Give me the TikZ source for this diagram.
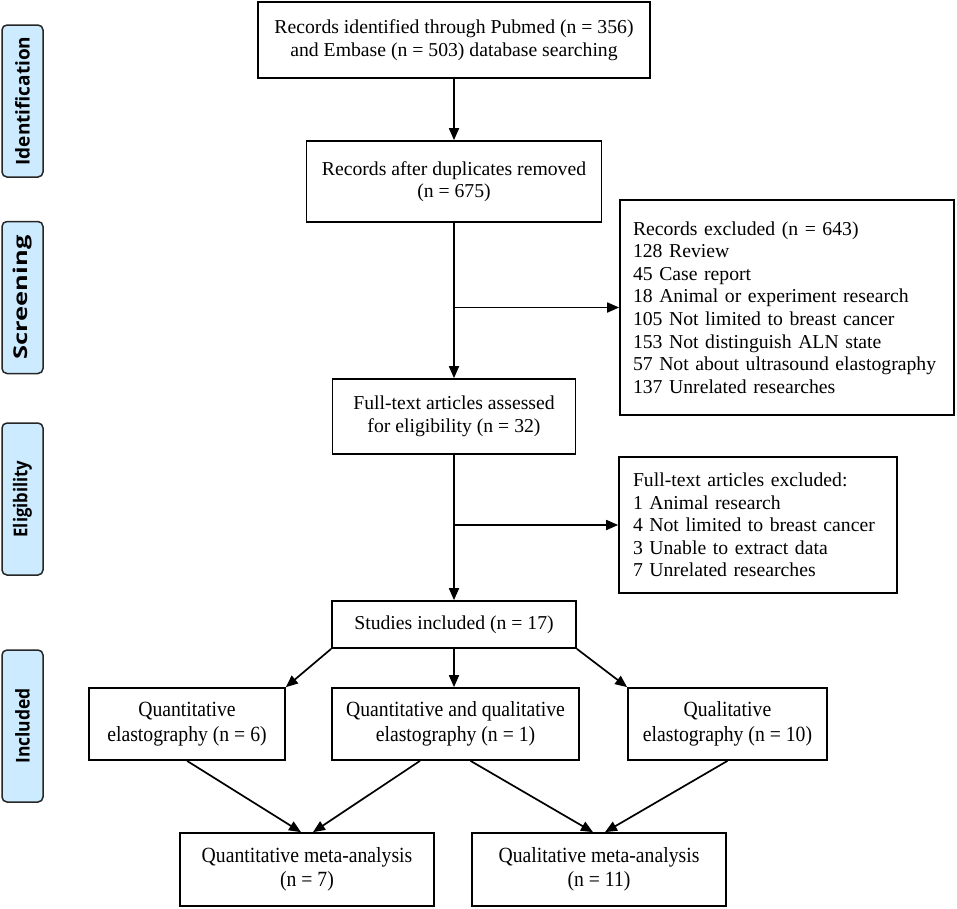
\documentclass[tikz,border=0pt]{standalone}
\usepackage{fontspec}
\setmainfont{Liberation Serif}
\newfontfamily\labelfont{Open Sans}
\usetikzlibrary{arrows.meta}
\definecolor{stageblue}{RGB}{205,235,255}
\newcommand{\tallt}[1]{\scalebox{1}[1.1]{\begin{tabular}{@{}c@{}}#1\end{tabular}}}
\newcommand{\stx}[2]{\scalebox{#1}[1]{#2}}
\begin{document}
\begin{tikzpicture}[x=1pt,y=-1pt,
  box/.style={draw=black, line width=1.7pt, inner sep=0pt,
    font=\fontsize{19.7}{22.6}\selectfont, align=center},
  stage/.style={draw=black!85, fill=stageblue, line width=1.5pt, rounded corners=5pt,
    rotate=90, minimum width=152pt, minimum height=41pt, inner sep=0pt,
    font=\labelfont\bfseries\fontsize{19}{22}\selectfont},
  arr/.style={line width=1.7pt, -{Triangle[length=12pt,width=10pt]}}]
\useasboundingbox (0,0) rectangle (957,908);
\fill[white] (0,0) rectangle (957,908);

% stage labels
\node[stage] (s1) at (22.5,101) {\stx{1.0}{Identification}};
\node[stage] (s2) at (22.5,297.5) {\stx{1.34}{Screening}};
\node[stage] (s3) at (22.5,499) {\stx{0.88}{Eligibility}};
\node[stage] (s4) at (22.5,726) {\stx{0.92}{Included}};

% main flow
\node[box, minimum width=392pt, minimum height=76pt] (id) at (454,40)
  {Records identified through Pubmed (n = 356)\\and Embase (n = 503) database searching};
\node[box, minimum width=295pt, minimum height=81pt] (dup) at (454,181.5)
  {Records after duplicates removed\\(n = 675)};
\node[box, text width=308pt, inner xsep=13pt, minimum height=215pt, align=left] (exc1) at (787,307.5)
  {Records excluded (n = 643)\\128 Review\\45 Case report\\18 Animal or experiment research\\105 Not limited to breast cancer\\153 Not distinguish ALN state\\57 Not about ultrasound elastography\\137 Unrelated researches};
\node[box, minimum width=243pt, minimum height=75pt] (full) at (454,416.5)
  {Full-text articles assessed\\for eligibility (n = 32)};
\node[box, text width=250pt, inner xsep=14pt, minimum height=136pt, align=left] (exc2) at (758,525)
  {Full-text articles excluded:\\1 Animal research\\4 Not limited to breast cancer\\3 Unable to extract data\\7 Unrelated researches};
\node[box, minimum width=244pt, minimum height=47pt] (inc) at (454,624.5)
  {Studies included (n = 17)};

\node[box, minimum width=196pt, minimum height=72pt] (quan) at (187,724)
  {\tallt{Quantitative\\elastography (n = 6)}};
\node[box, minimum width=247pt, minimum height=72pt] (both) at (455.5,724)
  {\tallt{Quantitative and qualitative\\elastography (n = 1)}};
\node[box, minimum width=199pt, minimum height=72pt] (qual) at (727.5,724)
  {\tallt{Qualitative\\elastography (n = 10)}};
\node[box, minimum width=254pt, minimum height=73pt] (mquan) at (307,869.5)
  {\tallt{Quantitative meta-analysis\\(n = 7)}};
\node[box, minimum width=254pt, minimum height=73pt] (mqual) at (599,869.5)
  {\tallt{Qualitative meta-analysis\\(n = 11)}};

% connectors
\draw[arr] (id.south) -- (dup.north);
\draw[arr] (dup.south) -- (full.north);
\coordinate (b1) at (dup.south |- exc1.west);
\draw[arr] (b1) -- (exc1.west);
\draw[arr] (full.south) -- (inc.north);
\coordinate (b2) at (full.south |- exc2.west);
\draw[arr] (b2) -- (exc2.west);
\draw[arr] (inc.south west) -- (quan.north east);
\draw[arr] (inc.south) -- (inc.south |- both.north);
\draw[arr] (inc.south east) -- (qual.north west);
\draw[arr] (quan.south) -- ([xshift=-6pt]mquan.north);
\draw[arr] ([xshift=-35.5pt]both.south) -- ([xshift=6pt]mquan.north);
\draw[arr] ([xshift=15pt]both.south) -- ([xshift=-6pt]mqual.north);
\draw[arr] (qual.south) -- ([xshift=6pt]mqual.north);
\end{tikzpicture}
\end{document}
